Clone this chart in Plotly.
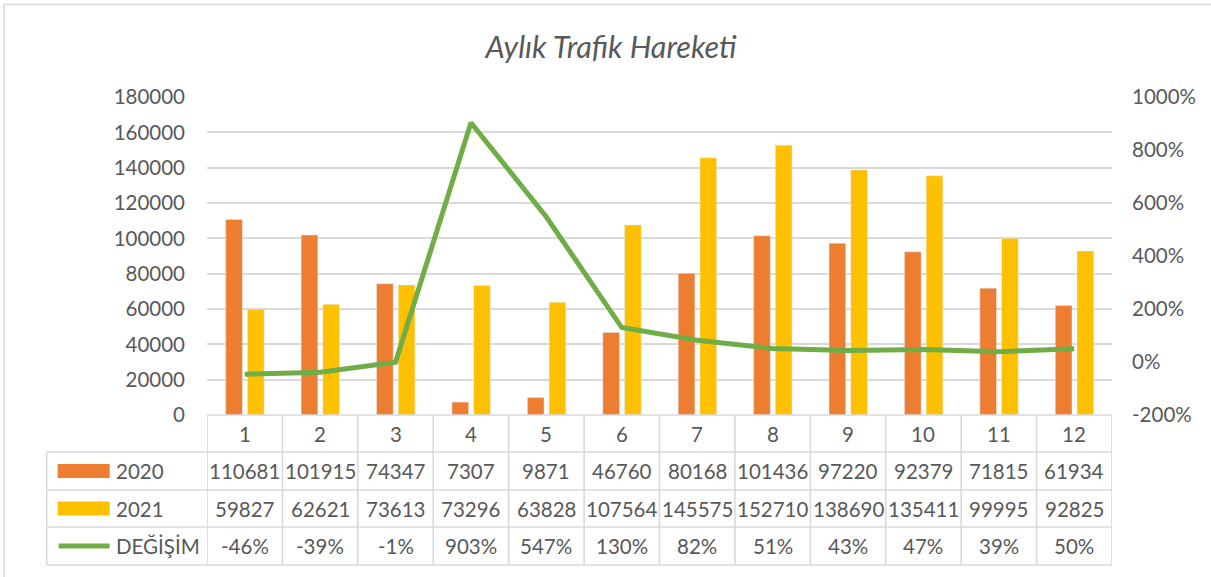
import plotly.graph_objects as go

# ---- data ----
months = [1, 2, 3, 4, 5, 6, 7, 8, 9, 10, 11, 12]
traffic_2020 = [110681, 101915, 74347, 7307, 9871, 46760, 80168, 101436, 97220, 92379, 71815, 61934]
traffic_2021 = [59827, 62621, 73613, 73296, 63828, 107564, 145575, 152710, 138690, 135411, 99995, 92825]
change_pct = [-46, -39, -1, 903, 547, 130, 82, 51, 43, 47, 39, 50]
series_names = ["2020", "2021", "DEĞİŞİM"]
title_text = "Aylık Trafik Hareketi"
left_ticks = [0, 20000, 40000, 60000, 80000, 100000, 120000, 140000, 160000, 180000]
right_ticks = [-200, 0, 200, 400, 600, 800, 1000]

# ---- style ----
W, H = 1211, 577
ML, MR, MT, MB = 207.3, 99, 97, 162
PW = W - ML - MR
PH = H - MT - MB
ORANGE = "#ED7D31"
YELLOW = "#FFC000"
GREEN = "#70AD47"
TXT = "#595959"
GRID = "#D9D9D9"
FONT = "Lato"
FS = 20.5


def px_x(px):
    return (px - ML) / PW


def px_y(py):
    return (H - MB - py) / PH


fig = go.Figure()
fig.add_trace(go.Bar(x=months, y=traffic_2020, name=series_names[0], marker_color=ORANGE,
                     width=0.2215, offset=-0.252, yaxis="y"))
fig.add_trace(go.Bar(x=months, y=traffic_2021, name=series_names[1], marker_color=YELLOW,
                     width=0.2215, offset=0.036, yaxis="y"))
fig.add_trace(go.Scatter(x=months, y=change_pct, name=series_names[2],
                         mode="lines", line=dict(color=GREEN, width=5), yaxis="y2"))

shapes = []
annotations = []

# table rows (pixel y boundaries)
row_lines = [415, 452, 490, 527, 565]
row_centers = [(row_lines[i] + row_lines[i + 1]) / 2 for i in range(4)]
left_edge = 47
line_style = dict(color=GRID, width=1.6)

# horizontal lines
shapes.append(dict(type="line", xref="x", yref="paper", x0=0.5, x1=12.5,
                   y0=px_y(row_lines[0]), y1=px_y(row_lines[0]), line=line_style))
for yy in row_lines[1:]:
    shapes.append(dict(type="line", xref="paper", yref="paper", x0=px_x(left_edge), x1=1,
                       y0=px_y(yy), y1=px_y(yy), line=line_style))
# vertical lines
for i in range(len(months) + 1):
    shapes.append(dict(type="line", xref="x", yref="paper", x0=0.5 + i, x1=0.5 + i,
                       y0=px_y(row_lines[0]), y1=px_y(row_lines[-1]), line=line_style))
shapes.append(dict(type="line", xref="paper", yref="paper", x0=px_x(left_edge), x1=px_x(left_edge),
                   y0=px_y(row_lines[1]), y1=px_y(row_lines[-1]), line=line_style))

# legend swatches
shapes.append(dict(type="rect", xref="paper", yref="paper", x0=px_x(58), x1=px_x(110),
                   y0=px_y(row_centers[1] + 7), y1=px_y(row_centers[1] - 7),
                   fillcolor=ORANGE, line=dict(width=0)))
shapes.append(dict(type="rect", xref="paper", yref="paper", x0=px_x(58), x1=px_x(110),
                   y0=px_y(row_centers[2] + 7), y1=px_y(row_centers[2] - 7),
                   fillcolor=YELLOW, line=dict(width=0)))
shapes.append(dict(type="line", xref="paper", yref="paper", x0=px_x(59), x1=px_x(110),
                   y0=px_y(row_centers[3]), y1=px_y(row_centers[3]),
                   line=dict(color=GREEN, width=5)))

# outer chart border (top and left visible)
shapes.append(dict(type="line", xref="paper", yref="paper", x0=px_x(4.5), x1=px_x(W),
                   y0=px_y(4.5), y1=px_y(4.5), line=dict(color=GRID, width=1.6)))
shapes.append(dict(type="line", xref="paper", yref="paper", x0=px_x(4.5), x1=px_x(4.5),
                   y0=px_y(4.5), y1=px_y(H), line=dict(color=GRID, width=1.6)))

tfont = dict(family=FONT, size=FS, color=TXT)
# header row
for m in months:
    annotations.append(dict(x=m, y=px_y(row_centers[0]), xref="x", yref="paper", text=str(m),
                            showarrow=False, font=tfont, xanchor="center", yanchor="middle"))
rows = [traffic_2020, traffic_2021, [f"{v}%" for v in change_pct]]
for r, vals in enumerate(rows):
    for m, v in zip(months, vals):
        annotations.append(dict(x=m, y=px_y(row_centers[r + 1]), xref="x", yref="paper",
                                text=str(v), showarrow=False, font=tfont,
                                xanchor="center", yanchor="middle"))
    annotations.append(dict(x=px_x(114), y=px_y(row_centers[r + 1]), xref="paper", yref="paper",
                            text=series_names[r], showarrow=False, font=tfont,
                            xanchor="left", yanchor="middle"))

fig.update_layout(
    width=W, height=H,
    margin=dict(l=ML, r=MR, t=MT, b=MB, pad=0),
    paper_bgcolor="white", plot_bgcolor="white",
    showlegend=False,
    barmode="overlay",
    title=dict(text=title_text, x=611 / W, xanchor="center",
               y=1 - 47 / H, yanchor="middle",
               font=dict(family=FONT, size=30.5, color=TXT, style="italic")),
    xaxis=dict(range=[0.5, 12.5], showticklabels=False, showgrid=False, zeroline=False,
               ticks="", showline=False, fixedrange=True),
    yaxis=dict(range=[0, 180000], tickvals=left_ticks, tickformat="d", showgrid=True,
               gridcolor=GRID, gridwidth=1.6,
               zeroline=False, showline=False, tickfont=tfont, ticks="", ticklabelstandoff=21),
    yaxis2=dict(range=[-200, 1000], tickvals=right_ticks, ticktext=[f"{v}%" for v in right_ticks],
                overlaying="y", side="right",
                showgrid=False, zeroline=False, showline=False, tickfont=tfont, ticks="",
                ticklabelstandoff=19),
    shapes=shapes,
    annotations=annotations,
)

fig.write_html("out.html", config={"displayModeBar": False},
               post_script="document.body.style.margin='0';document.body.style.padding='0';"
                           "document.body.style.overflow='hidden';")
